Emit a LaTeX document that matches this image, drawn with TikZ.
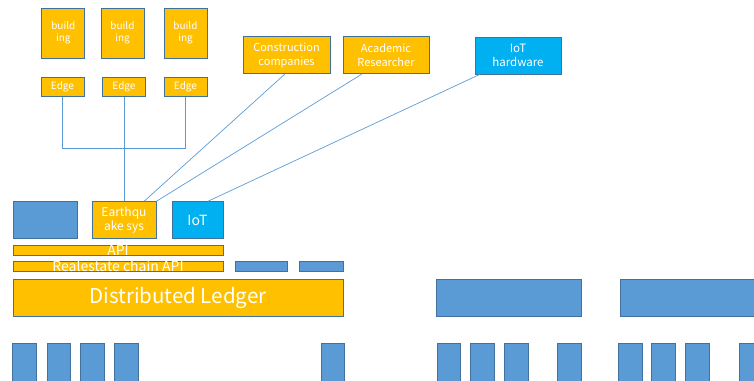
\documentclass[tikz,border=0pt]{standalone}
\usepackage{fontspec}
\newfontfamily\jpfont{Noto Sans CJK JP}
\usetikzlibrary{calc}

\definecolor{boxorange}{HTML}{FFC000}
\definecolor{boxblue}{HTML}{5B9BD5}
\definecolor{boxcyan}{HTML}{00B0F0}
\definecolor{boxline}{HTML}{41719C}

\tikzset{
  box/.style={draw=boxline, line width=0.8pt, inner sep=0pt, align=center,
    text=white, font=\jpfont\fontsize{10}{12}\selectfont},
  obox/.style={box, fill=boxorange},
  bbox/.style={box, fill=boxblue},
  cbox/.style={box, fill=boxcyan},
  txt/.style={text=white, inner sep=0pt, font=\jpfont\fontsize{14}{14}\selectfont},
  wire/.style={draw=boxblue, line width=0.7pt},
}

\begin{document}
\begin{tikzpicture}[x=1pt,y=-1pt]
\useasboundingbox (0,0) rectangle (754,380);

% buildings
\node[obox, minimum width=43pt, minimum height=50pt] (b1) at (63.3,33) {build\\ing};
\node[obox, minimum width=43pt, minimum height=50pt] (b2) at (122.5,33) {build\\ing};
\node[obox, minimum width=43pt, minimum height=50pt] (b3) at (185.5,33) {build\\ing};

\node[obox, minimum width=43pt, minimum height=19pt] (e1) at (62.5,87.2) {Edge};
\node[obox, minimum width=43pt, minimum height=19pt] (e2) at (124,87.2) {Edge};
\node[obox, minimum width=43pt, minimum height=19pt] (e3) at (185.5,87.2) {Edge};

% users
\node[obox, minimum width=87pt, minimum height=37pt, font=\jpfont\fontsize{11}{14}\selectfont] (cc) at (286.5,55.3) {Construction\\companies};
\node[obox, minimum width=86pt, minimum height=37pt, font=\jpfont\fontsize{11}{14}\selectfont] (ar) at (386,55.3) {Academic\\Researcher};
\node[cbox, minimum width=86pt, minimum height=37pt, font=\jpfont\fontsize{11.5}{14}\selectfont] (hw) at (518,55.5) {IoT\\hardware};

% apps
\node[bbox, minimum width=64pt, minimum height=36.6pt] (app) at (45,220) {};
\node[obox, minimum width=64pt, minimum height=36.6pt, font=\jpfont\fontsize{12}{14}\selectfont] (eq) at (124,220) {Earthqu\\ake sys};
\node[cbox, minimum width=51pt, minimum height=36.6pt, font=\jpfont\fontsize{14}{14}\selectfont] (iot) at (197.5,220) {IoT};

% api layers
\node[obox, minimum width=210pt, minimum height=9.3pt, label={[txt]center:API}] (api) at (118,250.3) {};
\node[obox, minimum width=210pt, minimum height=9.7pt, label={[txt]center:Realestate chain API}] (rapi) at (118,266.2) {};
\node[bbox, minimum width=52pt, minimum height=9.7pt] (s1) at (261,266.2) {};
\node[bbox, minimum width=44pt, minimum height=9.7pt] (s2) at (321,266.2) {};

% ledgers
\node[obox, minimum width=330pt, minimum height=37.4pt, font=\jpfont\fontsize{20.5}{24}\selectfont] (dl) at (178,298) {Distributed Ledger};
\node[bbox, minimum width=145pt, minimum height=37.4pt] (l2) at (508.5,298) {};
\node[bbox, minimum width=160pt, minimum height=37.4pt] (l3) at (700.7,298) {};

% nodes
\foreach \x [count=\i] in {12,46.6,80,114,320.7,436.5,470,504,557,618,651,685,739}
  \node[bbox, anchor=north west, minimum width=23.5pt, minimum height=40pt] (n\i) at (\x,343) {};

% wires
\coordinate (j) at (124,148.7);
\path[wire] (e1.south) -- (e1.south |- j) -- (e3.south |- j) -- (e3.south);
\path[wire] (e2.south) -- (eq.north);
\path[wire] ($(cc.south west)!0.48!(cc.south east)$) -- ($(eq.north west)!0.81!(eq.north east)$);
\path[wire] ($(ar.south west)!0.22!(ar.south east)$) -- (eq.north east);
\path[wire] ($(hw.south west)!0.06!(hw.south east)$) -- ($(iot.north west)!0.7!(iot.north east)$);
\end{tikzpicture}
\end{document}
